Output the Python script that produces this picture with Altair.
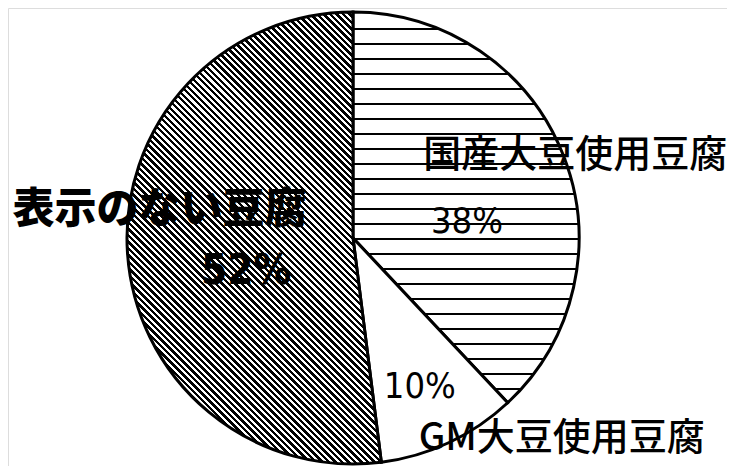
import math
import altair as alt
import pandas as pd

# ---- data -------------------------------------------------------------
categories = ["国産大豆使用豆腐", "GM大豆使用豆腐", "表示のない豆腐"]
values = [38, 10, 52]
order = [1, 2, 3]

df = pd.DataFrame({"category": categories, "value": values, "order": order})

# ---- geometry / style ---------------------------------------------------
W, H = 719, 458
CX, CY = 345, 230
R = 226
theta_scale = alt.Scale(domain=[0, 100], range=[0, 2 * math.pi])


def slice_bbox(start_pct, end_pct, r):
    a0 = start_pct / 100 * 2 * math.pi
    a1 = end_pct / 100 * 2 * math.pi
    angs = [a0, a1] + [k * math.pi / 2 for k in range(5) if a0 < k * math.pi / 2 < a1]
    pts = [(0.0, 0.0)] + [(r * math.sin(a), -r * math.cos(a)) for a in angs]
    xs = [p[0] for p in pts]
    ys = [p[1] for p in pts]
    return min(xs), min(ys), max(xs) - min(xs), max(ys) - min(ys)


def stripe_stops(total, period, thick, phase):
    stops = [{"offset": 0, "color": "white"}]
    pos = phase
    while pos + thick < total:
        a = round(pos / total, 6)
        b = round((pos + thick) / total, 6)
        stops += [
            {"offset": a, "color": "white"},
            {"offset": a, "color": "black"},
            {"offset": b, "color": "black"},
            {"offset": b, "color": "white"},
        ]
        pos += period
    stops.append({"offset": 1, "color": "white"})
    return stops


cum = [sum(values[:i]) for i in range(len(values) + 1)]

# slice 1: horizontal stripes
_, y0, w1, h1 = slice_bbox(cum[0], cum[1], R)
grad_h = {
    "gradient": "linear",
    "x1": 0, "y1": 0, "x2": 0, "y2": 1,
    "stops": stripe_stops(h1, 15.0, 1.6, 16.3),
}

# slice 3: diagonal "\" hatching
_, _, w3, h3 = slice_bbox(cum[2], cum[3], R)
k = (w3 + h3) / (w3 ** 2 + h3 ** 2)
L = (w3 + h3) / math.sqrt(2)
grad_d = {
    "gradient": "linear",
    "x1": 0, "y1": 1, "x2": round(w3 * k, 6), "y2": round(1 - h3 * k, 6),
    "stops": stripe_stops(L, 4.6, 2.4, 0.5),
}

fills = {1: grad_h, 2: "white", 3: grad_d}

base = (
    alt.Chart(df)
    .transform_window(cum="sum(value)", sort=[alt.SortField("order")])
    .transform_calculate(
        start="datum.cum - datum.value",
        mid="datum.cum - datum.value / 2",
        pct="datum.value + '%'",
    )
)

layers = []
for o in order:
    layers.append(
        base.transform_filter(alt.datum.order == o)
        .mark_arc(radius=R, fill=fills[o], stroke="black", strokeWidth=3)
        .encode(
            theta=alt.Theta("start:Q", scale=theta_scale),
            theta2="cum:Q",
            x=alt.value(CX),
            y=alt.value(CY),
        )
    )

JP = "Noto Sans CJK JP"
NUM = "Liberation Sans Narrow, DejaVu Sans Condensed, Noto Sans, sans-serif"

# (radius, dx, dy, font, size, weight)
name_style = {
    1: (237, 2, 5, JP, 38, 500),
    2: (293, 84, -64, JP, 38, 500),
    3: (196, 2, -40, JP, 42, 900),
}
pct_style = {
    1: (115, 7, 26, NUM, 36, 500),
    2: (164, -3, 1, NUM, 36, 500),
    3: (112, 5, 26, NUM, 42, "bold"),
}

for field, styles in (("category", name_style), ("pct", pct_style)):
    for o in order:
        r, dx, dy, font, size, weight = styles[o]
        layers.append(
            base.transform_filter(alt.datum.order == o)
            .mark_text(
                font=font, fontSize=size, fontWeight=weight, color="black",
                align="center", baseline="middle", dx=dx, dy=dy,
            )
            .encode(
                theta=alt.Theta("mid:Q", scale=theta_scale),
                radius=alt.value(r),
                x=alt.value(CX),
                y=alt.value(CY),
                text=alt.Text(f"{field}:N"),
            )
        )

chart = (
    alt.layer(*layers)
    .properties(width=W, height=H, autosize=alt.AutoSizeParams(type="none"), padding=0)
    .configure_view(stroke=None)
    .configure(background="white")
)

chart.save("out.html", embed_options={"renderer": "svg", "actions": False})
